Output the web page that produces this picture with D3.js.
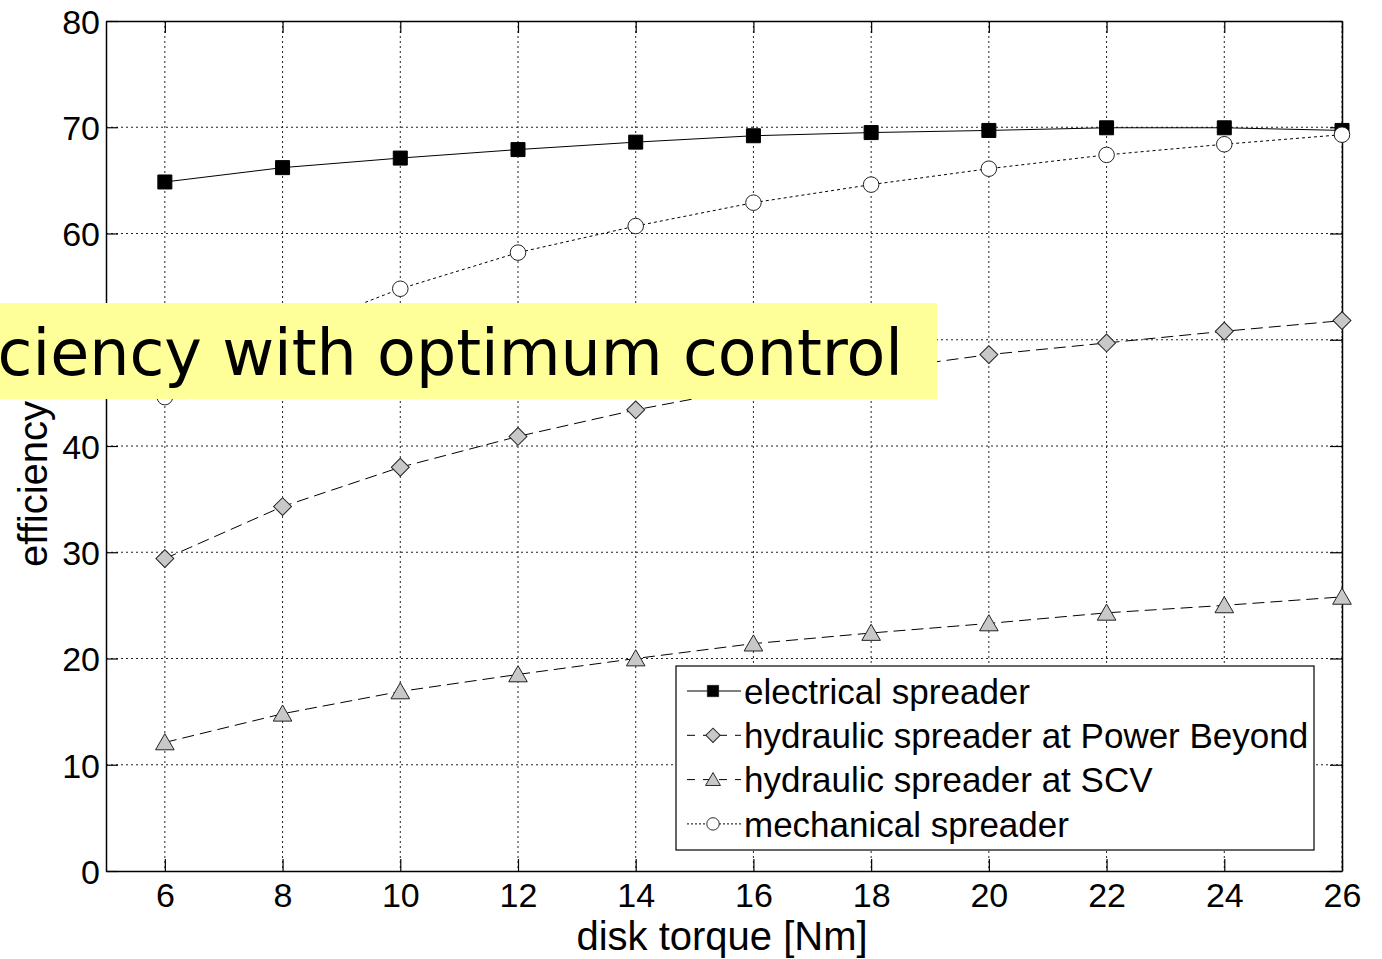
<!DOCTYPE html>
<html>
<head>
  <title>efficiency vs disk torque</title>
  <script src="https://d3js.org/d3.v7.min.js"></script>
  <style>
    body { margin: 0; background: #fff; }
    svg { display: block; }
  </style>
</head>
<body>
<div id="chart"></div>
<script type="text/javascript">

  // data
  var torque = [6, 8, 10, 12, 14, 16, 18, 20, 22, 24, 26];
  var electrical = [64.85, 66.2, 67.1, 67.9, 68.6, 69.2, 69.5, 69.7, 69.95, 69.95, 69.7];
  var powerBeyond = [29.4, 34.3, 38.0, 40.9, 43.4, 45.5, 47.1, 48.6, 49.7, 50.8, 51.8];
  var scv = [12.1, 14.8, 16.9, 18.5, 20.0, 21.4, 22.4, 23.3, 24.3, 25.0, 25.8];
  var mechanical = [44.6, 50.5, 54.8, 58.2, 60.7, 62.9, 64.6, 66.1, 67.4, 68.4, 69.3];
  var seriesNames = ["electrical spreader", "hydraulic spreader at Power Beyond",
                     "hydraulic spreader at SCV", "mechanical spreader"];
  var xTicks = [6, 8, 10, 12, 14, 16, 18, 20, 22, 24, 26];
  var yTicks = [0, 10, 20, 30, 40, 50, 60, 70, 80];
  var titleText = "ciency with optimum control";

(function() {
  var W = 1382, H = 959;
  var mL = 106, mR = 1342, mT = 21, mB = 871;

  var svg = d3.select("#chart").append("svg")
      .attr("width", W).attr("height", H);

  var x = d3.scaleLinear().domain([5, 26]).range([mL, mR]);
  var y = d3.scaleLinear().domain([0, 80]).range([mB, mT]);

  /* grid */
  var grid = svg.append("g").attr("stroke", "#222").attr("stroke-width", 1)
      .attr("stroke-dasharray", "2,3");
  grid.selectAll("line.vx").data(xTicks).enter().append("line")
      .attr("x1", function(d) { return x(d); }).attr("x2", function(d) { return x(d); })
      .attr("y1", mT).attr("y2", mB);
  grid.selectAll("line.hy").data(yTicks.slice(1, -1)).enter().append("line")
      .attr("y1", function(d) { return y(d); }).attr("y2", function(d) { return y(d); })
      .attr("x1", mL).attr("x2", mR);

  /* axes, ticks inward on all four sides */
  var fontAxis = "'Liberation Sans', Arial, sans-serif";
  var tl = 12;
  var xAxis = svg.append("g").attr("transform", "translate(0," + mB + ")")
      .call(d3.axisBottom(x).tickValues(xTicks).tickSizeInner(-tl).tickSizeOuter(0).tickPadding(12));
  var xTop = svg.append("g").attr("transform", "translate(0," + mT + ")")
      .call(d3.axisTop(x).tickValues(xTicks).tickSizeInner(-tl).tickSizeOuter(0).tickFormat(""));
  var yAxis = svg.append("g").attr("transform", "translate(" + mL + ",0)")
      .call(d3.axisLeft(y).tickValues(yTicks).tickSizeInner(-tl).tickSizeOuter(0).tickPadding(6));
  var yRight = svg.append("g").attr("transform", "translate(" + mR + ",0)")
      .call(d3.axisRight(y).tickValues(yTicks).tickSizeInner(-tl).tickSizeOuter(0).tickFormat(""));

  [xAxis, xTop, yAxis, yRight].forEach(function(a) {
    a.select(".domain").attr("stroke", "#000").attr("stroke-width", 1.5);
    a.selectAll(".tick line").attr("stroke", "#000").attr("stroke-width", 1.2);
    a.selectAll("text").attr("font-family", fontAxis).attr("font-size", 34).attr("fill", "#000");
  });
  yAxis.selectAll("text").attr("dy", "0.36em");

  svg.append("text")
      .attr("x", (mL + mR) / 2 - 2).attr("y", 950)
      .attr("text-anchor", "middle")
      .attr("font-family", fontAxis).attr("font-size", 40)
      .text("disk torque [Nm]");

  svg.append("text")
      .attr("transform", "translate(47,484) rotate(-90)")
      .attr("text-anchor", "middle")
      .attr("font-family", fontAxis).attr("font-size", 40)
      .text("efficiency");

  /* series */
  var series = [
    { name: seriesNames[0], values: electrical, dash: null, marker: "square", fill: "#000" },
    { name: seriesNames[1], values: powerBeyond, dash: "12,6", marker: "diamond", fill: "#c8c8c8" },
    { name: seriesNames[2], values: scv, dash: "12,6", marker: "triangle", fill: "#c8c8c8" },
    { name: seriesNames[3], values: mechanical, dash: "3,3", marker: "circle", fill: "#fff" }
  ];

  var symbols = {
    square: d3.symbol().type(d3.symbolSquare).size(196),
    diamond: d3.symbol().type(d3.symbolSquare).size(160),
    triangle: d3.symbol().type(d3.symbolTriangle).size(150),
    circle: d3.symbol().type(d3.symbolCircle).size(190)
  };
  function markTransform(m) {
    if (m === "diamond") return " rotate(45)";
    if (m === "triangle") return " translate(0,2)";
    return "";
  }

  var line = d3.line()
      .x(function(d) { return x(d[0]); })
      .y(function(d) { return y(d[1]); });

  series.forEach(function(s) {
    var pts = torque.map(function(t, i) { return [t, s.values[i]]; });
    var g = svg.append("g");
    g.append("path").datum(pts)
        .attr("d", line)
        .attr("fill", "none")
        .attr("stroke", "#000")
        .attr("stroke-width", 1)
        .attr("stroke-dasharray", s.dash);
    g.selectAll("path.m").data(pts).enter().append("path")
        .attr("class", "m")
        .attr("transform", function(d) {
          return "translate(" + x(d[0]) + "," + y(d[1]) + ")" + markTransform(s.marker);
        })
        .attr("d", symbols[s.marker])
        .attr("fill", s.fill)
        .attr("stroke", s.marker === "square" ? "#000" : "#222")
        .attr("stroke-width", 1);
  });

  /* legend */
  var lg = svg.append("g").attr("transform", "translate(676,666)");
  lg.append("rect").attr("width", 638).attr("height", 184)
      .attr("fill", "#fff").attr("stroke", "#000").attr("stroke-width", 1.2);
  var rows = lg.selectAll("g.row").data(series).enter().append("g")
      .attr("transform", function(d, i) { return "translate(0," + (25 + i * 44.3) + ")"; });
  rows.append("line").attr("x1", 11).attr("x2", 65).attr("y1", 0).attr("y2", 0)
      .attr("stroke", "#000").attr("stroke-width", 1)
      .attr("stroke-dasharray", function(d) { return d.dash ? (d.dash === "3,3" ? "2,2" : "8,8") : null; });
  rows.append("path")
      .attr("transform", function(d) { return "translate(37,0) scale(0.8)" + markTransform(d.marker); })
      .attr("d", function(d) { return symbols[d.marker](); })
      .attr("fill", function(d) { return d.fill; })
      .attr("stroke", "#222").attr("stroke-width", 1.2);
  rows.append("text").attr("x", 68).attr("y", 0).attr("dy", "0.36em")
      .attr("font-family", fontAxis).attr("font-size", 35)
      .text(function(d) { return d.name; });

  /* yellow title banner overlapping the plot */
  svg.append("rect").attr("x", 0).attr("y", 303).attr("width", 937).attr("height", 96)
      .attr("fill", "#ffff99");
  svg.append("text")
      .attr("x", 903).attr("y", 375)
      .attr("text-anchor", "end")
      .attr("font-family", "'DejaVu Sans', sans-serif").attr("font-size", 63.5)
      .attr("fill", "#000")
      .text(titleText);
})();

</script>
</body>
</html>
